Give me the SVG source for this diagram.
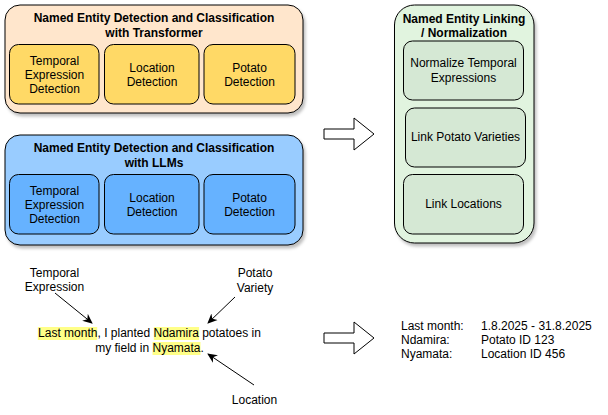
<svg xmlns="http://www.w3.org/2000/svg" width="608" height="415" viewBox="0 0 608 415">
<defs>
<filter id="sh" x="-10%" y="-10%" width="130%" height="130%">
<feDropShadow dx="2" dy="3" stdDeviation="1.5" flood-color="#000" flood-opacity="0.25"/>
</filter>
<marker id="ah" viewBox="0 0 10 10" refX="9" refY="5" markerWidth="10" markerHeight="10" orient="auto" markerUnits="userSpaceOnUse">
<path d="M0,0.5 L10,5 L0,9.5 L3,5 Z" fill="#000"/>
</marker>
</defs>
<style>
text{font-family:"Liberation Sans",Arial,Helvetica,sans-serif;font-size:12px;fill:#000}
.t{font-weight:bold;text-anchor:middle}
.c{text-anchor:middle}
.box{stroke:#000;stroke-width:1}
.cont{stroke:#000;stroke-width:1;filter:url(#sh)}
.hl{fill:#ffff88}
.ln{stroke:#000;stroke-width:1;fill:none;marker-end:url(#ah)}
.blk{fill:#fff;stroke:#000;stroke-width:1}
</style>

<g id="transformer">
<rect class="cont" x="5" y="5" width="298" height="108" rx="15" fill="#ffe6cc"/>
<text class="t" x="154" y="22">Named Entity Detection and Classification</text>
<text class="t" x="154" y="37">with Transformer</text>
</g>
<g id="tr-temporal">
<rect class="box" x="9.5" y="44.5" width="89.5" height="59.5" rx="9" fill="#ffd966"/>
<text class="c" x="54.5" y="65">Temporal</text>
<text class="c" x="54.5" y="79">Expression</text>
<text class="c" x="54.5" y="93">Detection</text>
</g>
<g id="tr-location">
<rect class="box" x="104.5" y="44.5" width="94.5" height="59.5" rx="9" fill="#ffd966"/>
<text class="c" x="152" y="72">Location</text>
<text class="c" x="152" y="86">Detection</text>
</g>
<g id="tr-potato">
<rect class="box" x="204" y="44.5" width="91" height="59.5" rx="9" fill="#ffd966"/>
<text class="c" x="249.5" y="72">Potato</text>
<text class="c" x="249.5" y="86">Detection</text>
</g>

<g id="llm">
<rect class="cont" x="5" y="135" width="298" height="110" rx="15" fill="#99ccff"/>
<text class="t" x="154" y="152">Named Entity Detection and Classification</text>
<text class="t" x="154" y="167">with LLMs</text>
</g>
<g id="llm-temporal">
<rect class="box" x="9.5" y="174.5" width="89.5" height="59.5" rx="9" fill="#66b2ff"/>
<text class="c" x="54.5" y="195">Temporal</text>
<text class="c" x="54.5" y="209">Expression</text>
<text class="c" x="54.5" y="223">Detection</text>
</g>
<g id="llm-location">
<rect class="box" x="104.5" y="174.5" width="94.5" height="59.5" rx="9" fill="#66b2ff"/>
<text class="c" x="152" y="202">Location</text>
<text class="c" x="152" y="216">Detection</text>
</g>
<g id="llm-potato">
<rect class="box" x="204" y="174.5" width="91" height="59.5" rx="9" fill="#66b2ff"/>
<text class="c" x="249.5" y="202">Potato</text>
<text class="c" x="249.5" y="216">Detection</text>
</g>

<g id="linking">
<rect class="cont" x="394.5" y="5" width="139.5" height="238" rx="20" fill="#e1f4df"/>
<text class="t" x="464" y="23">Named Entity Linking</text>
<text class="t" x="464" y="37">/ Normalization</text>
</g>
<g id="norm-temporal">
<rect class="box" x="403.5" y="41" width="120" height="59" rx="9" fill="#d5e8d4"/>
<text class="c" x="463.5" y="67">Normalize Temporal</text>
<text class="c" x="463.5" y="82">Expressions</text>
</g>
<g id="link-potato">
<rect class="box" x="405.5" y="108" width="120" height="59" rx="9" fill="#d5e8d4"/>
<text class="c" x="465.5" y="141">Link Potato Varieties</text>
</g>
<g id="link-locations">
<rect class="box" x="403.5" y="174.5" width="120" height="59.5" rx="9" fill="#d5e8d4"/>
<text class="c" x="463.5" y="208">Link Locations</text>
</g>

<g id="sentence">
<rect class="hl" x="37.8" y="327" width="59.4" height="13"/>
<rect class="hl" x="153.8" y="327" width="45.3" height="13"/>
<rect class="hl" x="152.5" y="342" width="48" height="13"/>
<text class="c" x="149.5" y="337">Last month, I planted Ndamira potatoes in</text>
<text class="c" x="149.5" y="352">my field in Nyamata.</text>
</g>
<g id="label-temporal">
<text class="c" x="54.5" y="277">Temporal</text>
<text class="c" x="54.5" y="291">Expression</text>
</g>
<g id="label-potato">
<text class="c" x="255" y="277">Potato</text>
<text class="c" x="255" y="292">Variety</text>
</g>
<g id="label-location">
<text class="c" x="254.5" y="404">Location</text>
</g>

<g id="result">
<text x="401" y="330">Last month:</text>
<text x="481" y="330">1.8.2025 - 31.8.2025</text>
<text x="401" y="344">Ndamira:</text>
<text x="481" y="344">Potato ID 123</text>
<text x="401" y="358">Nyamata:</text>
<text x="481" y="358">Location ID 456</text>
</g>

<g id="connectors">
<polygon class="blk" points="324,129 354,129 354,118 374,134 354,150 354,139 324,139"/>
<polygon class="blk" points="324,333 354,333 354,322 374,338 354,354 354,343 324,343"/>
<line class="ln" x1="55" y1="293" x2="92" y2="323"/>
<line class="ln" x1="235" y1="297" x2="208" y2="323"/>
<line class="ln" x1="254" y1="385" x2="208" y2="354"/>
</g>
</svg>
